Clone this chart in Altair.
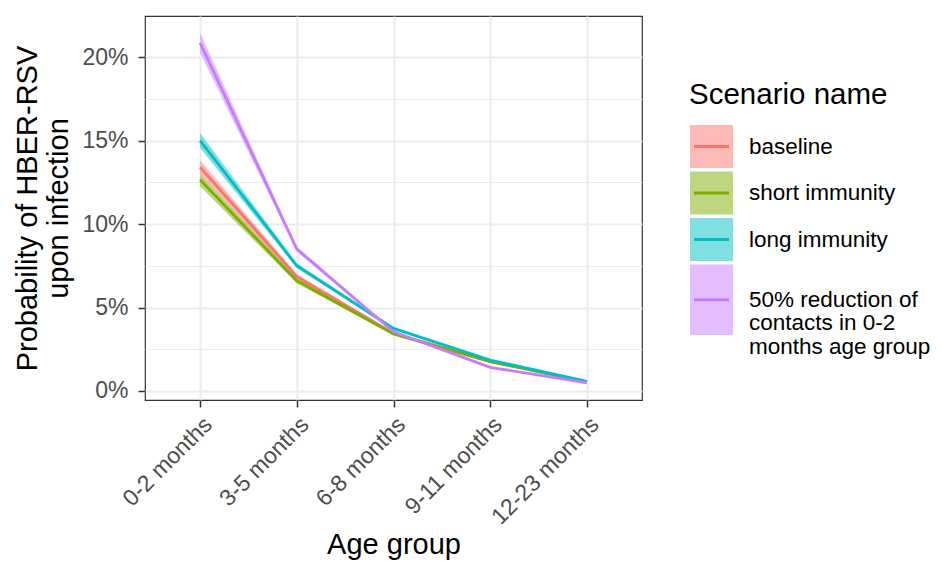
import altair as alt
import pandas as pd

ages = ["0-2 months", "3-5 months", "6-8 months", "9-11 months", "12-23 months"]
scenarios = ["baseline", "short immunity", "long immunity",
             "50% reduction of contacts in 0-2 months age group"]
legend_lines = [["baseline"], ["short immunity"], ["long immunity"],
                ["50% reduction of", "contacts in 0-2", "months age group"]]
colors = ["#F8766D", "#7CAE00", "#00BFC4", "#C77CFF"]

# probability (%) per scenario and age group: median, lower, upper
mid_baseline = [13.4, 6.85, 3.45, 1.78, 0.55]
lo_baseline = [13.0, 6.7, 3.38, 1.74, 0.53]
hi_baseline = [13.8, 7.0, 3.52, 1.82, 0.57]

mid_short = [12.65, 6.6, 3.42, 1.76, 0.55]
lo_short = [12.25, 6.45, 3.35, 1.72, 0.53]
hi_short = [13.0, 6.75, 3.49, 1.80, 0.57]

mid_long = [15.0, 7.5, 3.75, 1.85, 0.57]
lo_long = [14.55, 7.35, 3.68, 1.81, 0.55]
hi_long = [15.45, 7.65, 3.82, 1.89, 0.59]

mid_red = [20.85, 8.5, 3.55, 1.42, 0.48]
lo_red = [20.25, 8.35, 3.48, 1.38, 0.46]
hi_red = [21.45, 8.65, 3.62, 1.46, 0.50]

series = [(mid_baseline, lo_baseline, hi_baseline),
          (mid_short, lo_short, hi_short),
          (mid_long, lo_long, hi_long),
          (mid_red, lo_red, hi_red)]

rows = []
for s, (m, lo, hi) in zip(scenarios, series):
    for a, mv, lv, hv in zip(ages, m, lo, hi):
        rows.append({"age": a, "scenario": s, "mid": mv / 100,
                     "lo": lv / 100, "hi": hv / 100})
df = pd.DataFrame(rows)

FONT = "Liberation Sans"
TICK_FS = 23
TITLE_FS = 29
color_scale = alt.Scale(domain=scenarios, range=colors)

minor_test = "round(datum.value*1000) % 50 != 0"

x_enc = alt.X("age:O", sort=ages,
              scale=alt.Scale(type="point", padding=0.57),
              axis=alt.Axis(title="Age group", labelAngle=-45, labelAlign="right",
                            labelBaseline="top", labelFontSize=TICK_FS, labelColor="#4D4D4D",
                            titleFontSize=TITLE_FS, titleFontWeight="normal", titleColor="black",
                            titlePadding=2, grid=True, gridColor="#EBEBEB", gridWidth=2,
                            domain=False, tickColor="#333333", tickSize=7, tickWidth=1.5,
                            labelPadding=6, labelFont=FONT, titleFont=FONT))

y_scale = alt.Scale(domain=[-0.0054, 0.2246], nice=False, zero=False)
y_axis = alt.Axis(title=["Probability of HBER-RSV", "upon infection"],
                  values=[i * 0.025 for i in range(9)],
                  labelExpr="round(datum.value*1000) % 50 == 0 ? format(datum.value, '.0%') : ''",
                  labelFontSize=TICK_FS, labelColor="#4D4D4D", labelFont=FONT,
                  titleFontSize=TITLE_FS, titleFontWeight="normal", titleColor="black",
                  titleFont=FONT, titlePadding=8, labelPadding=10, titleLineHeight=31,
                  grid=True, gridColor="#EBEBEB",
                  gridWidth={"condition": {"test": minor_test, "value": 1}, "value": 2},
                  tickOpacity={"condition": {"test": minor_test, "value": 0}, "value": 1},
                  domain=False, tickColor="#333333", tickSize=7, tickWidth=1.5)

base = alt.Chart(df)
band = base.mark_area(opacity=0.5).encode(
    x=x_enc,
    y=alt.Y("lo:Q", scale=y_scale, axis=y_axis),
    y2="hi:Q",
    color=alt.Color("scenario:N", scale=color_scale, legend=None),
)
line = base.mark_line(strokeWidth=2.8).encode(
    x=alt.X("age:O", sort=ages),
    y=alt.Y("mid:Q"),
    color=alt.Color("scenario:N", scale=color_scale, legend=None),
)
main = alt.layer(band, line).properties(
    width=497, height=384,
    view=alt.ViewBackground(stroke="#333333", strokeWidth=1.2),
)

# manual legend (ggplot-style keys: filled square with a line)
KEY = 43
GAP = 3.5
LINE_H = 23.5
top = 109.0
leg_rows, leg_text = [], []
for s, lines in zip(scenarios, legend_lines):
    h = max(KEY, len(lines) * LINE_H)
    leg_rows.append({"scenario": s, "x0": 0, "x1": KEY, "y0": top, "y1": top + h,
                     "lx0": 4, "lx1": KEY - 4, "yc": top + h / 2})
    leg_text.append({"scenario": s, "label": lines, "x": KEY + 16, "yc": top + h / 2})
    top += h + GAP
leg_df = pd.DataFrame(leg_rows)
txt_df = pd.DataFrame(leg_text)

LW, LH = 236, 384
lx = alt.Scale(domain=[0, LW], range=[0, LW], nice=False, zero=False)
ly = alt.Scale(domain=[0, LH], range=[0, LH], nice=False, zero=False)

keys = alt.Chart(leg_df).mark_rect(opacity=0.5).encode(
    x=alt.X("x0:Q", scale=lx, axis=None), x2="x1:Q",
    y=alt.Y("y0:Q", scale=ly, axis=None), y2="y1:Q",
    color=alt.Color("scenario:N", scale=color_scale, legend=None),
)
key_lines = alt.Chart(leg_df).mark_rule(strokeWidth=2.8).encode(
    x=alt.X("lx0:Q", scale=lx, axis=None), x2="lx1:Q",
    y=alt.Y("yc:Q", scale=ly, axis=None),
    color=alt.Color("scenario:N", scale=color_scale, legend=None),
)
labels = alt.Chart(txt_df).mark_text(align="left", baseline="middle", fontSize=22.5,
                                     font=FONT, lineHeight=LINE_H, color="black").encode(
    x=alt.X("x:Q", scale=lx, axis=None),
    y=alt.Y("yc:Q", scale=ly, axis=None),
    text="label",
)
title_df = pd.DataFrame({"t": ["Scenario name"], "x": [-1], "y": [88]})
leg_title = alt.Chart(title_df).mark_text(align="left", baseline="alphabetic", fontSize=29.5,
                                          font=FONT, color="black").encode(
    x=alt.X("x:Q", scale=lx, axis=None),
    y=alt.Y("y:Q", scale=ly, axis=None),
    text="t",
)
legend = alt.layer(keys, key_lines, labels, leg_title).properties(
    width=LW, height=LH).resolve_scale(x="shared", y="shared")

chart = alt.hconcat(main, legend, spacing=45).resolve_scale(
    x="independent", y="independent"
).properties(
    padding={"left": 5, "top": 7, "right": 0, "bottom": 0}
).configure_view(stroke="transparent")

chart.save("out.html", embed_options={"renderer": "svg", "actions": False})
